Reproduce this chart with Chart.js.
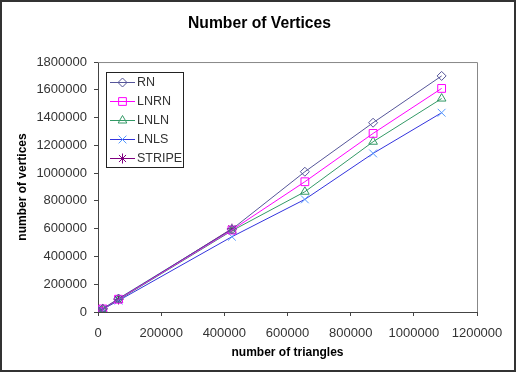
<!DOCTYPE html>
<html>
<head>
<meta charset="utf-8">
<script src="https://cdn.jsdelivr.net/npm/chart.js@4.4.1/dist/chart.umd.min.js"></script>
<style>
  html, body { margin: 0; padding: 0; background: #fff; }
  canvas { display: block; }
</style>
</head>
<body>
<canvas id="chart" width="519" height="373"></canvas>
<script>
// number of triangles per model
const triangles = [1500, 15000, 65000, 424000, 655000, 871000, 1088000];

// number of vertices for each method
const rn     = [2400, 23000, 97000, 596000, 1010000, 1363000, 1700000];
const lnrn   = [2300, 22000, 92000, 590000, 938000, 1286000, 1610000];
const lnln   = [2200, 21000, 88000, 585000, 866000, 1226000, 1537000];
const lnls   = [2100, 20000, 82000, 542000, 811000, 1142000, 1435000];
const stripe = [2300, 22000, 90000, 600000];

const xTicks = [0, 200000, 400000, 600000, 800000, 1000000, 1200000];
const yTicks = [0, 200000, 400000, 600000, 800000, 1000000, 1200000, 1400000, 1600000, 1800000];

const FONT = 'Arial, "Liberation Sans", sans-serif';

function toPoints(values) {
    return values.map((v, i) => ({ x: triangles[i], y: v }));
}

function series(label, values, color, markerColor, style, radius) {
    return {
        label: label,
        data: toPoints(values),
        borderColor: color,
        borderWidth: 1,
        pointStyle: style,
        pointRadius: radius,
        pointBorderColor: markerColor,
        pointBackgroundColor: 'rgba(0,0,0,0)',
        pointBorderWidth: 1,
        tension: 0
    };
}

const datasets = [
    series('RN', rn, '#555599', '#555599', 'rectRot', 4.5),
    series('LNRN', lnrn, '#ff00ff', '#ff00ff', 'rect', 5.5),
    series('LNLN', lnln, '#339966', '#339966', 'triangle', 5),
    series('LNLS', lnls, '#3333dd', '#5599ff', 'crossRot', 5.5),
    series('STRIPE', stripe, '#800080', '#800080', 'star', 5)
];

// legend box inside the plot + outer frame + plot frame
const decorations = {
    id: 'decorations',
    beforeDatasetsDraw(chart) {
        const { ctx, chartArea: a } = chart;
        ctx.save();
        ctx.strokeStyle = '#888';
        ctx.lineWidth = 1;
        ctx.beginPath();
        ctx.moveTo(a.left, a.top + 0.5);
        ctx.lineTo(a.right + 0.5, a.top + 0.5);
        ctx.lineTo(a.right + 0.5, a.bottom);
        ctx.stroke();
        ctx.restore();
    },
    afterDraw(chart) {
        const ctx = chart.ctx;
        ctx.save();
        // outer frame
        ctx.strokeStyle = '#333';
        ctx.lineWidth = 2;
        ctx.strokeRect(1, 1, 514, 370);

        // legend
        const lx = 106.5, ly = 72.5, lw = 77, lh = 95;
        ctx.fillStyle = '#fff';
        ctx.fillRect(lx, ly, lw, lh);
        ctx.strokeStyle = '#222';
        ctx.lineWidth = 1;
        ctx.strokeRect(lx, ly, lw, lh);
        ctx.font = '12.5px ' + FONT;
        ctx.textBaseline = 'middle';
        chart.data.datasets.forEach((ds, i) => {
            const y = 82 + i * 19;
            ctx.strokeStyle = ds.borderColor;
            ctx.lineWidth = 1;
            ctx.beginPath();
            ctx.moveTo(110, y + 0.5);
            ctx.lineTo(135, y + 0.5);
            ctx.stroke();
            ctx.strokeStyle = ds.pointBorderColor;
            ctx.fillStyle = 'rgba(0,0,0,0)';
            Chart.helpers.drawPoint(ctx, {
                pointStyle: ds.pointStyle,
                radius: ds.pointRadius,
                borderWidth: 1,
                rotation: 0
            }, 122.5, y + 0.5);
            ctx.fillStyle = '#333';
            ctx.fillText(ds.label, 137, y + 1);
        });
        ctx.restore();
    }
};

new Chart(document.getElementById('chart'), {
    type: 'line',
    data: { datasets: datasets },
    plugins: [decorations],
    options: {
        responsive: false,
        animation: false,
        layout: { padding: 0 },
        plugins: {
            legend: { display: false },
            tooltip: { enabled: false },
            title: {
                display: true,
                text: 'Number of Vertices',
                color: '#000',
                font: { family: FONT, size: 15.7, weight: 'bold' },
                padding: { top: 14.6, bottom: 28.6 }
            }
        },
        scales: {
            x: {
                type: 'linear',
                min: 0,
                max: 1200000,
                afterFit(scale) { scale.height = 61; },
                afterBuildTicks(scale) { scale.ticks = xTicks.map(v => ({ value: v })); },
                grid: { drawOnChartArea: false, tickLength: 4, tickColor: '#444' },
                border: { color: '#444' },
                ticks: {
                    color: '#333',
                    padding: 10,
                    maxRotation: 0,
                    font: { family: FONT, size: 13 },
                    callback: v => String(v)
                },
                title: {
                    display: true,
                    text: 'number of triangles',
                    color: '#000',
                    font: { family: FONT, size: 12, weight: 'bold' },
                    padding: { top: 0, bottom: 13 }
                }
            },
            y: {
                type: 'linear',
                min: 0,
                max: 1800000,
                afterFit(scale) { scale.width = 98; },
                afterBuildTicks(scale) { scale.ticks = yTicks.map(v => ({ value: v })); },
                grid: { drawOnChartArea: false, tickLength: 4, tickColor: '#444' },
                border: { color: '#444' },
                ticks: {
                    color: '#333',
                    padding: 7,
                    font: { family: FONT, size: 13 },
                    callback: v => String(v)
                },
                title: {
                    display: true,
                    text: 'number of vertices',
                    color: '#000',
                    font: { family: FONT, size: 12, weight: 'bold' },
                    padding: { top: 15, bottom: 0 }
                }
            },
            // empty right axis only reserves the space right of the plot
            right: {
                type: 'linear',
                position: 'right',
                afterFit(scale) { scale.width = 42; },
                grid: { display: false },
                border: { display: false },
                ticks: { display: false }
            }
        }
    }
});
</script>
</body>
</html>
